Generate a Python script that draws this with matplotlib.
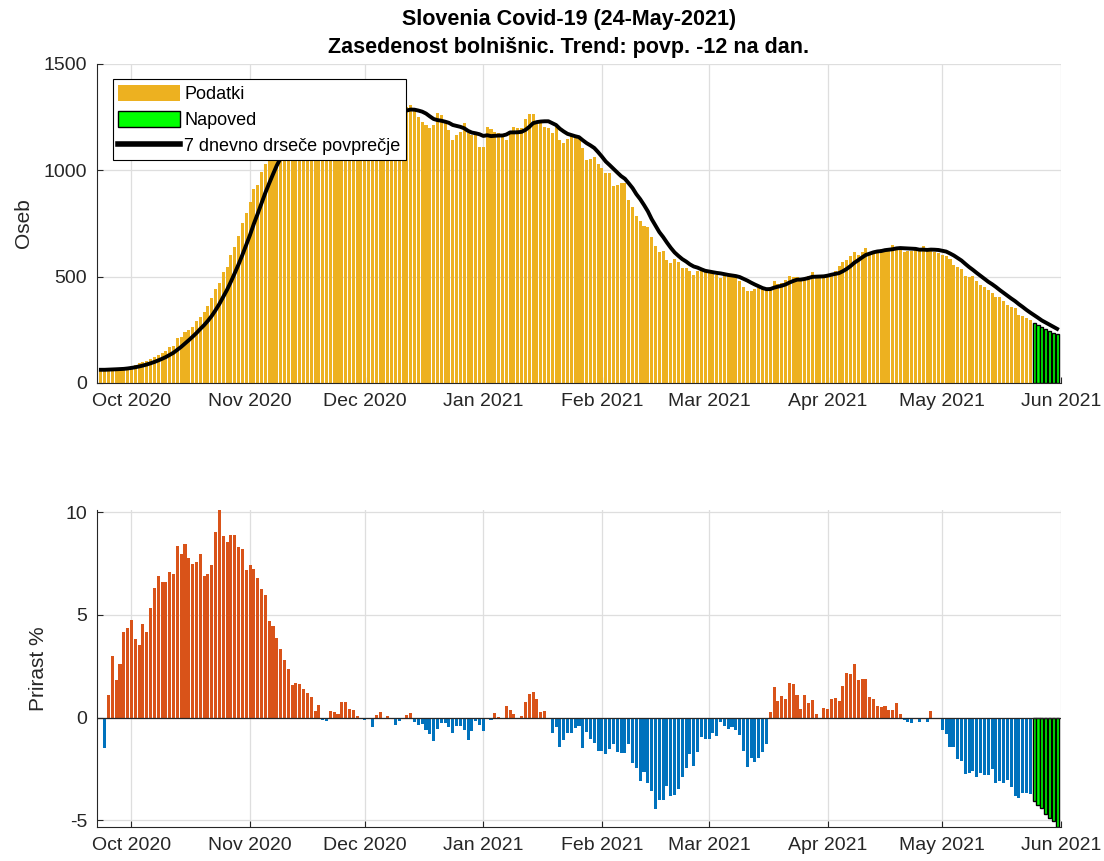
import numpy as np
import pandas as pd
import matplotlib
matplotlib.use('Agg')
import matplotlib.pyplot as plt
import matplotlib.dates as mdates
from matplotlib.patches import Patch
from matplotlib.lines import Line2D

plt.rcParams['font.family'] = ['Liberation Sans', 'DejaVu Sans']
plt.rcParams['axes.unicode_minus'] = False

# =============================================================================
# PODATKI (odčitano s slike)
# =============================================================================
start_podatki = '2020-09-23'

# zasedenost bolnišnic, 23.9.2020 - 24.5.2021
podatki = [
    62, 62, 64, 66, 68, 70, 72, 76, 80, 86,
    92, 98, 104, 112, 120, 130, 140, 150, 170, 175,
    210, 215, 240, 250, 265, 290, 310, 335, 360, 400,
    440, 470, 520, 545, 600, 640, 690, 750, 800, 850,
    910, 930, 990, 1030, 1060, 1100, 1140,
    1150, 1160, 1190, 1200, 1215, 1220, 1235, 1245, 1230, 1250,
    1240, 1235, 1230, 1255, 1260, 1265, 1285, 1290, 1280, 1275,
    1270, 1265, 1260, 1270, 1255, 1280, 1290, 1275, 1285, 1280,
    1265, 1275, 1290, 1300, 1305, 1280,
    1252, 1229, 1213, 1197, 1213, 1268, 1260, 1221, 1190, 1143,
    1166, 1182, 1221, 1174, 1166, 1166, 1111, 1111, 1205, 1193,
    1182, 1177, 1166, 1143, 1182, 1205, 1197, 1197, 1240, 1265,
    1265, 1218, 1224, 1205, 1197, 1177, 1205, 1143, 1127, 1146,
    1166, 1158, 1145,
    1103, 1049, 1052, 1061, 1030, 1009, 986, 986, 926, 931,
    942, 942, 860, 829, 785, 762, 738, 735, 685, 644,
    618, 622, 578, 566, 583, 571, 539, 539, 528, 508,
    528, 528, 522, 516, 513, 508, 492, 503, 503, 503,
    497, 481, 450, 434, 434, 440, 445, 440, 445, 453,
    481, 466, 472, 484, 503, 497, 497, 484, 487, 503,
    522, 508,
    503, 503, 506, 519, 528, 550, 571, 578, 597, 616,
    602, 618, 633, 613, 622, 625, 629, 632, 632, 649,
    641, 633, 618, 622, 622, 629, 622, 644, 622, 629,
    618, 613, 602, 597, 582, 555, 547, 534, 503, 497,
    503, 481, 461, 450, 437, 422, 406, 403, 387, 367,
    359, 351, 320, 315, 305, 298,
]

# napoved, 25.5.2021 - 31.5.2021
napoved = [284, 273, 263, 253, 244, 236, 228]

# prirast v %, 24.9.2020 - 24.5.2021
start_prirast = '2020-09-24'
prirast = [
    -1.5, 1.08, 3.0, 1.84, 2.6, 4.15, 4.35, 4.74, 3.82, 3.55,
    4.55, 4.15, 5.35, 6.32, 6.9, 6.58, 6.61, 7.1, 7.0, 8.37,
    7.97, 8.45, 7.74, 7.45, 7.58, 7.97, 6.87, 7.0, 7.4, 9.03,
    10.1, 8.85, 8.55, 8.9, 8.9, 8.3, 8.2, 7.2, 7.4, 7.24,
    6.8, 6.27, 5.97, 4.68, 4.44, 3.87, 3.34, 2.8, 2.36, 1.6,
    1.68, 1.65, 1.4, 1.2, 1.0, 0.32, 0.63, -0.1, -0.15, 0.3,
    0.25, 0.2, 0.76, 0.77, 0.44, 0.35, 0.06, 0.0, -0.13, -0.05,
    -0.45, 0.15, 0.26, 0.0, 0.06, 0.0, -0.37, -0.16, 0.0, 0.15,
    0.21, -0.2, -0.37, -0.32, -0.6, -0.82, -1.13, -0.55, -0.26, -0.26,
    -0.45, -0.77, -0.42, -0.42, -0.58, -1.1, -0.65, -0.16, -0.37, -0.65,
    -0.05, -0.13, 0.24, 0.05, -0.08, 0.58, 0.39, 0.19, 0.0, 0.1,
    0.77, 1.16, 1.26, 0.92, 0.29, 0.34, 0.0, -0.74, -0.45, -1.45,
    -1.1, -0.77, -0.74, -0.52, -0.42, -1.48, -0.69, -1.05, -1.23, -1.61,
    -1.61, -1.77, -1.55, -1.26, -1.66, -1.71, -1.71, -1.29, -2.19, -2.44,
    -3.06, -2.63, -3.16, -3.55, -4.45, -4.0, -4.03, -3.32, -3.79, -3.76,
    -3.45, -2.87, -2.44, -1.77, -2.35, -1.66, -0.94, -1.06, -1.02, -0.77,
    -0.9, -0.21, -0.42, -0.53, -0.48, -0.61, -0.85, -1.61, -2.39, -1.95,
    -2.15, -1.94, -1.69, -1.26, 0.27, 1.48, 0.82, 1.06, 0.92, 1.69,
    1.65, 1.11, 0.4, 1.11, 0.73, 0.87, 0.19, 0.0, 0.48, 0.4,
    0.92, 0.97, 0.82, 1.55, 2.16, 2.13, 2.61, 1.84, 1.89, 1.89,
    1.0, 0.89, 0.56, 0.52, 0.55, 0.35, 0.35, 0.73, 0.19, -0.13,
    -0.2, -0.26, 0.0, -0.2, 0.0, -0.2, 0.34, -0.08, 0.0, -0.58,
    -0.81, -1.45, -1.43, -2.0, -2.1, -2.74, -2.68, -2.58, -2.87, -2.68,
    -2.79, -2.79, -2.48, -3.16, -3.06, -3.16, -3.03, -3.39, -3.81, -3.92,
    -3.65, -3.65, -3.7,
]
prirast_napoved = [-4.08, -4.24, -4.4, -4.68, -4.89, -5.05, -5.32]

# =============================================================================
# PRIPRAVA
# =============================================================================
d_pod = pd.date_range(start_podatki, periods=len(podatki), freq='D')
d_nap = pd.date_range(d_pod[-1] + pd.Timedelta(days=1), periods=len(napoved), freq='D')
d_pri = pd.date_range(start_prirast, periods=len(prirast), freq='D')
d_prn = pd.date_range(d_pri[-1] + pd.Timedelta(days=1), periods=len(prirast_napoved), freq='D')

vse = pd.Series(podatki + napoved, index=d_pod.append(d_nap))
povp = vse.rolling(7, min_periods=1).mean()

C_POD = '#EDB120'
C_NAP = '#00FF00'
C_POS = '#D95319'
C_NEG = '#0072BD'
TXT = '#262626'

xlim = (pd.Timestamp('2020-09-22'), pd.Timestamp('2021-06-01'))
xticks = pd.date_range('2020-10-01', '2021-06-01', freq='MS')

fig = plt.figure(figsize=(11.04, 8.61), dpi=100)
ax1 = fig.add_axes([0.0879, 0.5552, 0.8731, 0.3705])
ax2 = fig.add_axes([0.0879, 0.0395, 0.8731, 0.3682])


def style(ax):
    ax.set_xlim(*xlim)
    ax.set_xticks(xticks)
    ax.xaxis.set_major_formatter(mdates.DateFormatter('%b %Y'))
    ax.grid(True, color='#dedede', linewidth=0.9)
    ax.set_axisbelow(True)
    for s in ['top', 'right']:
        ax.spines[s].set_visible(False)
    for s in ['left', 'bottom']:
        ax.spines[s].set_color(TXT)
        ax.spines[s].set_linewidth(0.8)
    ax.tick_params(direction='in', length=4, width=0.8, colors=TXT,
                   labelsize=14, pad=7)


# --- zgornji graf ---
ax1.bar(d_pod, podatki, width=0.8, color=C_POD, linewidth=0)
ax1.bar(d_nap, napoved, width=0.8, color=C_NAP, edgecolor='black', linewidth=1.0)
ax1.plot(povp.index, povp.values, color='black', linewidth=2.8, zorder=5)
style(ax1)
ax1.set_ylim(0, 1500)
ax1.set_yticks([0, 500, 1000, 1500])
ax1.set_ylabel('Oseb', fontsize=15, color=TXT)
ax1.yaxis.set_label_coords(-0.066, 0.5)
ax1.set_title('Slovenia Covid-19 (24-May-2021)\nZasedenost bolnišnic. Trend: povp. -12 na dan.',
              fontsize=15.5, fontweight='bold', color='black', pad=8,
              linespacing=1.45, x=0.4896)

handles = [Patch(facecolor=C_POD, edgecolor='none'),
           Patch(facecolor=C_NAP, edgecolor='black', linewidth=1.0),
           Line2D([0], [0], color='black', linewidth=4)]
leg = ax1.legend(handles, ['Podatki', 'Napoved', '7 dnevno drseče povprečje'],
                 loc='upper left', bbox_to_anchor=(0.0166, 0.952),
                 fontsize=13, frameon=True, fancybox=False, framealpha=1,
                 edgecolor='black', borderpad=0.3, handlelength=3.4,
                 handleheight=1.0, handletextpad=0.25, labelspacing=0.42,
                 borderaxespad=0)
leg.get_frame().set_linewidth(0.8)

# --- spodnji graf ---
pr = np.array(prirast)
barve = [C_POS if v > 0 else C_NEG for v in pr]
ax2.bar(d_pri, pr, width=0.8, color=barve, linewidth=0)
ax2.bar(d_prn, prirast_napoved, width=0.8, color=C_NAP, edgecolor='black', linewidth=1.0)
ax2.axhline(0, color=TXT, linewidth=0.9, zorder=4)
style(ax2)
vals = list(prirast) + list(prirast_napoved)
ax2.set_ylim(min(vals), max(vals))
ax2.set_yticks([-5, 0, 5, 10])
ax2.set_ylabel('Prirast %', fontsize=15, color=TXT)
ax2.yaxis.set_label_coords(-0.051, 0.5)

fig.savefig('out.png', dpi=100)
